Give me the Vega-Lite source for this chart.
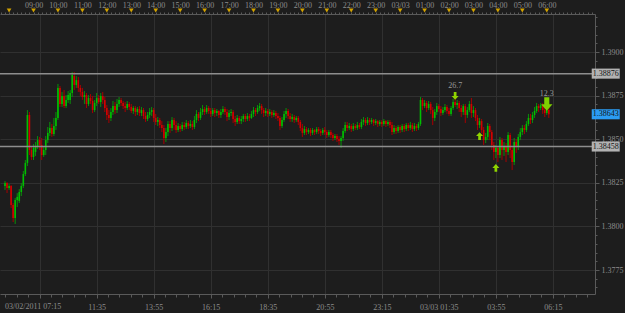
{
"$schema": "https://vega.github.io/schema/vega-lite/v6.json",
"width": 595, "height": 280,
"autosize": {"type": "none"},
"padding": {"left": 0, "top": 14, "right": 30, "bottom": 19},
"background": "#1d1d1d",
"config": {"view": {"stroke": null, "fill": "#1d1d1d"}, "axis": {"labelFont": "Liberation Sans Narrow", "labelFontSize": 8, "labelColor": "#8c8c8c", "domainColor": "#5a5a5a", "tickColor": "#5a5a5a", "gridColor": "#303030", "title": null}},
"datasets": {
"bars": [
{"t":470,"o":1.38232,"h":1.38260,"l":1.38209,"c":1.38249},
{"t":475,"o":1.38249,"h":1.38254,"l":1.38191,"c":1.38220},
{"t":480,"o":1.38220,"h":1.38243,"l":1.38209,"c":1.38232},
{"t":485,"o":1.38232,"h":1.38237,"l":1.38105,"c":1.38123},
{"t":490,"o":1.38123,"h":1.38134,"l":1.38025,"c":1.38048},
{"t":495,"o":1.38048,"h":1.38163,"l":1.38014,"c":1.38151},
{"t":500,"o":1.38151,"h":1.38191,"l":1.38111,"c":1.38169},
{"t":505,"o":1.38146,"h":1.38214,"l":1.38134,"c":1.38197},
{"t":510,"o":1.38197,"h":1.38249,"l":1.38174,"c":1.38232},
{"t":515,"o":1.38232,"h":1.38318,"l":1.38220,"c":1.38300},
{"t":520,"o":1.38300,"h":1.38381,"l":1.38289,"c":1.38364},
{"t":525,"o":1.38364,"h":1.38667,"l":1.38346,"c":1.38639},
{"t":530,"o":1.38639,"h":1.38656,"l":1.38409,"c":1.38438},
{"t":535,"o":1.38438,"h":1.38461,"l":1.38381,"c":1.38398},
{"t":540,"o":1.38398,"h":1.38472,"l":1.38381,"c":1.38450},
{"t":545,"o":1.38427,"h":1.38484,"l":1.38404,"c":1.38461},
{"t":550,"o":1.38461,"h":1.38518,"l":1.38444,"c":1.38495},
{"t":555,"o":1.38495,"h":1.38513,"l":1.38438,"c":1.38467},
{"t":560,"o":1.38467,"h":1.38507,"l":1.38381,"c":1.38409},
{"t":565,"o":1.38409,"h":1.38455,"l":1.38398,"c":1.38438},
{"t":570,"o":1.38438,"h":1.38518,"l":1.38409,"c":1.38495},
{"t":575,"o":1.38495,"h":1.38570,"l":1.38478,"c":1.38536},
{"t":580,"o":1.38536,"h":1.38599,"l":1.38518,"c":1.38564},
{"t":585,"o":1.38564,"h":1.38587,"l":1.38513,"c":1.38530},
{"t":590,"o":1.38530,"h":1.38622,"l":1.38518,"c":1.38576},
{"t":595,"o":1.38576,"h":1.38656,"l":1.38553,"c":1.38622},
{"t":600,"o":1.38622,"h":1.38817,"l":1.38610,"c":1.38794},
{"t":605,"o":1.38794,"h":1.38805,"l":1.38685,"c":1.38702},
{"t":610,"o":1.38702,"h":1.38771,"l":1.38685,"c":1.38748},
{"t":615,"o":1.38748,"h":1.38782,"l":1.38679,"c":1.38690},
{"t":620,"o":1.38690,"h":1.38753,"l":1.38679,"c":1.38725},
{"t":625,"o":1.38725,"h":1.38776,"l":1.38708,"c":1.38753},
{"t":630,"o":1.38725,"h":1.38782,"l":1.38702,"c":1.38765},
{"t":635,"o":1.38765,"h":1.38885,"l":1.38742,"c":1.38868},
{"t":640,"o":1.38862,"h":1.38885,"l":1.38782,"c":1.38811},
{"t":645,"o":1.38811,"h":1.38862,"l":1.38794,"c":1.38839},
{"t":650,"o":1.38839,"h":1.38857,"l":1.38771,"c":1.38794},
{"t":655,"o":1.38794,"h":1.38811,"l":1.38748,"c":1.38771},
{"t":660,"o":1.38771,"h":1.38794,"l":1.38725,"c":1.38742},
{"t":665,"o":1.38742,"h":1.38776,"l":1.38702,"c":1.38753},
{"t":670,"o":1.38753,"h":1.38765,"l":1.38679,"c":1.38702},
{"t":675,"o":1.38702,"h":1.38753,"l":1.38690,"c":1.38736},
{"t":680,"o":1.38736,"h":1.38759,"l":1.38702,"c":1.38719},
{"t":685,"o":1.38719,"h":1.38748,"l":1.38650,"c":1.38667},
{"t":690,"o":1.38667,"h":1.38725,"l":1.38656,"c":1.38708},
{"t":695,"o":1.38708,"h":1.38765,"l":1.38690,"c":1.38736},
{"t":700,"o":1.38736,"h":1.38753,"l":1.38702,"c":1.38713},
{"t":705,"o":1.38713,"h":1.38765,"l":1.38685,"c":1.38748},
{"t":710,"o":1.38748,"h":1.38771,"l":1.38702,"c":1.38725},
{"t":715,"o":1.38725,"h":1.38742,"l":1.38656,"c":1.38679},
{"t":720,"o":1.38679,"h":1.38696,"l":1.38610,"c":1.38639},
{"t":725,"o":1.38639,"h":1.38667,"l":1.38593,"c":1.38622},
{"t":730,"o":1.38622,"h":1.38679,"l":1.38604,"c":1.38656},
{"t":735,"o":1.38656,"h":1.38719,"l":1.38639,"c":1.38690},
{"t":740,"o":1.38690,"h":1.38713,"l":1.38645,"c":1.38667},
{"t":745,"o":1.38667,"h":1.38731,"l":1.38650,"c":1.38702},
{"t":750,"o":1.38702,"h":1.38742,"l":1.38685,"c":1.38725},
{"t":755,"o":1.38725,"h":1.38736,"l":1.38690,"c":1.38708},
{"t":760,"o":1.38708,"h":1.38719,"l":1.38673,"c":1.38690},
{"t":765,"o":1.38690,"h":1.38713,"l":1.38656,"c":1.38679},
{"t":770,"o":1.38679,"h":1.38719,"l":1.38667,"c":1.38702},
{"t":775,"o":1.38702,"h":1.38713,"l":1.38667,"c":1.38685},
{"t":780,"o":1.38685,"h":1.38702,"l":1.38650,"c":1.38662},
{"t":785,"o":1.38662,"h":1.38690,"l":1.38645,"c":1.38679},
{"t":790,"o":1.38679,"h":1.38690,"l":1.38633,"c":1.38656},
{"t":795,"o":1.38656,"h":1.38685,"l":1.38639,"c":1.38673},
{"t":800,"o":1.38673,"h":1.38690,"l":1.38633,"c":1.38650},
{"t":805,"o":1.38650,"h":1.38685,"l":1.38633,"c":1.38667},
{"t":810,"o":1.38667,"h":1.38679,"l":1.38616,"c":1.38633},
{"t":815,"o":1.38633,"h":1.38656,"l":1.38599,"c":1.38616},
{"t":820,"o":1.38616,"h":1.38656,"l":1.38604,"c":1.38639},
{"t":825,"o":1.38639,"h":1.38679,"l":1.38622,"c":1.38656},
{"t":830,"o":1.38656,"h":1.38685,"l":1.38633,"c":1.38667},
{"t":835,"o":1.38667,"h":1.38679,"l":1.38599,"c":1.38622},
{"t":840,"o":1.38622,"h":1.38645,"l":1.38581,"c":1.38599},
{"t":845,"o":1.38599,"h":1.38627,"l":1.38576,"c":1.38610},
{"t":850,"o":1.38610,"h":1.38622,"l":1.38564,"c":1.38581},
{"t":855,"o":1.38581,"h":1.38604,"l":1.38541,"c":1.38564},
{"t":860,"o":1.38564,"h":1.38581,"l":1.38472,"c":1.38507},
{"t":865,"o":1.38507,"h":1.38564,"l":1.38484,"c":1.38541},
{"t":870,"o":1.38541,"h":1.38604,"l":1.38518,"c":1.38587},
{"t":875,"o":1.38587,"h":1.38604,"l":1.38536,"c":1.38564},
{"t":880,"o":1.38564,"h":1.38627,"l":1.38547,"c":1.38610},
{"t":885,"o":1.38610,"h":1.38622,"l":1.38553,"c":1.38581},
{"t":890,"o":1.38581,"h":1.38604,"l":1.38536,"c":1.38553},
{"t":895,"o":1.38553,"h":1.38593,"l":1.38541,"c":1.38576},
{"t":900,"o":1.38576,"h":1.38587,"l":1.38541,"c":1.38558},
{"t":905,"o":1.38558,"h":1.38599,"l":1.38547,"c":1.38581},
{"t":910,"o":1.38581,"h":1.38599,"l":1.38553,"c":1.38570},
{"t":915,"o":1.38570,"h":1.38610,"l":1.38558,"c":1.38593},
{"t":920,"o":1.38593,"h":1.38604,"l":1.38558,"c":1.38576},
{"t":925,"o":1.38576,"h":1.38610,"l":1.38564,"c":1.38587},
{"t":930,"o":1.38587,"h":1.38604,"l":1.38553,"c":1.38570},
{"t":935,"o":1.38570,"h":1.38633,"l":1.38558,"c":1.38610},
{"t":940,"o":1.38610,"h":1.38667,"l":1.38593,"c":1.38645},
{"t":945,"o":1.38645,"h":1.38656,"l":1.38604,"c":1.38622},
{"t":950,"o":1.38622,"h":1.38679,"l":1.38610,"c":1.38656},
{"t":955,"o":1.38656,"h":1.38696,"l":1.38639,"c":1.38673},
{"t":960,"o":1.38673,"h":1.38685,"l":1.38639,"c":1.38656},
{"t":965,"o":1.38656,"h":1.38696,"l":1.38645,"c":1.38679},
{"t":970,"o":1.38679,"h":1.38690,"l":1.38645,"c":1.38662},
{"t":975,"o":1.38662,"h":1.38679,"l":1.38627,"c":1.38645},
{"t":980,"o":1.38645,"h":1.38679,"l":1.38633,"c":1.38667},
{"t":985,"o":1.38667,"h":1.38679,"l":1.38627,"c":1.38650},
{"t":990,"o":1.38650,"h":1.38673,"l":1.38633,"c":1.38662},
{"t":995,"o":1.38662,"h":1.38667,"l":1.38622,"c":1.38639},
{"t":1000,"o":1.38639,"h":1.38673,"l":1.38622,"c":1.38656},
{"t":1005,"o":1.38656,"h":1.38690,"l":1.38645,"c":1.38673},
{"t":1010,"o":1.38673,"h":1.38685,"l":1.38639,"c":1.38656},
{"t":1015,"o":1.38656,"h":1.38673,"l":1.38604,"c":1.38627},
{"t":1020,"o":1.38627,"h":1.38667,"l":1.38610,"c":1.38650},
{"t":1025,"o":1.38650,"h":1.38673,"l":1.38633,"c":1.38656},
{"t":1030,"o":1.38656,"h":1.38667,"l":1.38593,"c":1.38616},
{"t":1035,"o":1.38616,"h":1.38633,"l":1.38576,"c":1.38599},
{"t":1040,"o":1.38599,"h":1.38639,"l":1.38587,"c":1.38622},
{"t":1045,"o":1.38622,"h":1.38633,"l":1.38587,"c":1.38604},
{"t":1050,"o":1.38604,"h":1.38633,"l":1.38587,"c":1.38616},
{"t":1055,"o":1.38616,"h":1.38645,"l":1.38599,"c":1.38633},
{"t":1060,"o":1.38633,"h":1.38645,"l":1.38599,"c":1.38616},
{"t":1065,"o":1.38616,"h":1.38650,"l":1.38604,"c":1.38633},
{"t":1070,"o":1.38633,"h":1.38645,"l":1.38604,"c":1.38622},
{"t":1075,"o":1.38622,"h":1.38662,"l":1.38616,"c":1.38645},
{"t":1080,"o":1.38645,"h":1.38685,"l":1.38627,"c":1.38667},
{"t":1085,"o":1.38667,"h":1.38679,"l":1.38633,"c":1.38656},
{"t":1090,"o":1.38656,"h":1.38696,"l":1.38645,"c":1.38679},
{"t":1095,"o":1.38679,"h":1.38708,"l":1.38662,"c":1.38690},
{"t":1100,"o":1.38690,"h":1.38702,"l":1.38645,"c":1.38667},
{"t":1105,"o":1.38667,"h":1.38679,"l":1.38627,"c":1.38650},
{"t":1110,"o":1.38650,"h":1.38679,"l":1.38633,"c":1.38662},
{"t":1115,"o":1.38662,"h":1.38673,"l":1.38627,"c":1.38645},
{"t":1120,"o":1.38645,"h":1.38673,"l":1.38633,"c":1.38656},
{"t":1125,"o":1.38656,"h":1.38667,"l":1.38622,"c":1.38639},
{"t":1130,"o":1.38639,"h":1.38667,"l":1.38627,"c":1.38650},
{"t":1135,"o":1.38650,"h":1.38662,"l":1.38616,"c":1.38633},
{"t":1140,"o":1.38633,"h":1.38650,"l":1.38604,"c":1.38622},
{"t":1145,"o":1.38622,"h":1.38633,"l":1.38553,"c":1.38576},
{"t":1150,"o":1.38576,"h":1.38627,"l":1.38564,"c":1.38610},
{"t":1155,"o":1.38610,"h":1.38662,"l":1.38599,"c":1.38645},
{"t":1160,"o":1.38645,"h":1.38679,"l":1.38622,"c":1.38662},
{"t":1165,"o":1.38662,"h":1.38673,"l":1.38616,"c":1.38633},
{"t":1170,"o":1.38633,"h":1.38650,"l":1.38599,"c":1.38616},
{"t":1175,"o":1.38616,"h":1.38645,"l":1.38599,"c":1.38627},
{"t":1180,"o":1.38627,"h":1.38639,"l":1.38593,"c":1.38610},
{"t":1185,"o":1.38610,"h":1.38633,"l":1.38599,"c":1.38622},
{"t":1190,"o":1.38622,"h":1.38633,"l":1.38581,"c":1.38599},
{"t":1195,"o":1.38599,"h":1.38610,"l":1.38547,"c":1.38564},
{"t":1200,"o":1.38564,"h":1.38587,"l":1.38513,"c":1.38536},
{"t":1205,"o":1.38536,"h":1.38576,"l":1.38524,"c":1.38558},
{"t":1210,"o":1.38558,"h":1.38570,"l":1.38524,"c":1.38541},
{"t":1215,"o":1.38541,"h":1.38564,"l":1.38530,"c":1.38553},
{"t":1220,"o":1.38553,"h":1.38564,"l":1.38518,"c":1.38536},
{"t":1225,"o":1.38536,"h":1.38564,"l":1.38524,"c":1.38553},
{"t":1230,"o":1.38553,"h":1.38558,"l":1.38524,"c":1.38541},
{"t":1235,"o":1.38541,"h":1.38570,"l":1.38530,"c":1.38558},
{"t":1240,"o":1.38558,"h":1.38570,"l":1.38530,"c":1.38547},
{"t":1245,"o":1.38547,"h":1.38558,"l":1.38518,"c":1.38536},
{"t":1250,"o":1.38536,"h":1.38564,"l":1.38524,"c":1.38553},
{"t":1255,"o":1.38553,"h":1.38570,"l":1.38524,"c":1.38541},
{"t":1260,"o":1.38541,"h":1.38553,"l":1.38507,"c":1.38524},
{"t":1265,"o":1.38524,"h":1.38553,"l":1.38513,"c":1.38541},
{"t":1270,"o":1.38541,"h":1.38553,"l":1.38507,"c":1.38524},
{"t":1275,"o":1.38524,"h":1.38536,"l":1.38490,"c":1.38507},
{"t":1280,"o":1.38507,"h":1.38530,"l":1.38495,"c":1.38518},
{"t":1285,"o":1.38518,"h":1.38530,"l":1.38484,"c":1.38501},
{"t":1290,"o":1.38501,"h":1.38518,"l":1.38467,"c":1.38490},
{"t":1295,"o":1.38490,"h":1.38518,"l":1.38450,"c":1.38507},
{"t":1300,"o":1.38507,"h":1.38564,"l":1.38490,"c":1.38547},
{"t":1305,"o":1.38547,"h":1.38599,"l":1.38536,"c":1.38581},
{"t":1310,"o":1.38581,"h":1.38599,"l":1.38547,"c":1.38564},
{"t":1315,"o":1.38564,"h":1.38593,"l":1.38553,"c":1.38576},
{"t":1320,"o":1.38576,"h":1.38587,"l":1.38541,"c":1.38558},
{"t":1325,"o":1.38558,"h":1.38593,"l":1.38547,"c":1.38576},
{"t":1330,"o":1.38576,"h":1.38587,"l":1.38553,"c":1.38564},
{"t":1335,"o":1.38564,"h":1.38599,"l":1.38553,"c":1.38581},
{"t":1340,"o":1.38581,"h":1.38593,"l":1.38558,"c":1.38570},
{"t":1345,"o":1.38570,"h":1.38616,"l":1.38558,"c":1.38599},
{"t":1350,"o":1.38599,"h":1.38627,"l":1.38581,"c":1.38610},
{"t":1355,"o":1.38610,"h":1.38622,"l":1.38576,"c":1.38593},
{"t":1360,"o":1.38593,"h":1.38627,"l":1.38581,"c":1.38610},
{"t":1365,"o":1.38610,"h":1.38622,"l":1.38581,"c":1.38599},
{"t":1370,"o":1.38599,"h":1.38622,"l":1.38587,"c":1.38610},
{"t":1375,"o":1.38610,"h":1.38616,"l":1.38576,"c":1.38593},
{"t":1380,"o":1.38593,"h":1.38616,"l":1.38581,"c":1.38604},
{"t":1385,"o":1.38604,"h":1.38610,"l":1.38570,"c":1.38587},
{"t":1390,"o":1.38587,"h":1.38610,"l":1.38576,"c":1.38599},
{"t":1395,"o":1.38599,"h":1.38610,"l":1.38570,"c":1.38587},
{"t":1400,"o":1.38587,"h":1.38616,"l":1.38576,"c":1.38604},
{"t":1405,"o":1.38604,"h":1.38610,"l":1.38570,"c":1.38587},
{"t":1410,"o":1.38587,"h":1.38610,"l":1.38576,"c":1.38599},
{"t":1415,"o":1.38599,"h":1.38610,"l":1.38564,"c":1.38581},
{"t":1420,"o":1.38581,"h":1.38599,"l":1.38524,"c":1.38541},
{"t":1425,"o":1.38541,"h":1.38581,"l":1.38530,"c":1.38564},
{"t":1430,"o":1.38564,"h":1.38576,"l":1.38530,"c":1.38547},
{"t":1435,"o":1.38547,"h":1.38581,"l":1.38536,"c":1.38570},
{"t":1440,"o":1.38570,"h":1.38581,"l":1.38536,"c":1.38553},
{"t":1445,"o":1.38553,"h":1.38587,"l":1.38541,"c":1.38576},
{"t":1450,"o":1.38576,"h":1.38587,"l":1.38541,"c":1.38558},
{"t":1455,"o":1.38558,"h":1.38593,"l":1.38547,"c":1.38581},
{"t":1460,"o":1.38581,"h":1.38593,"l":1.38547,"c":1.38564},
{"t":1465,"o":1.38564,"h":1.38599,"l":1.38553,"c":1.38581},
{"t":1470,"o":1.38581,"h":1.38593,"l":1.38541,"c":1.38558},
{"t":1475,"o":1.38558,"h":1.38593,"l":1.38547,"c":1.38576},
{"t":1480,"o":1.38576,"h":1.38587,"l":1.38547,"c":1.38564},
{"t":1485,"o":1.38564,"h":1.38599,"l":1.38553,"c":1.38587},
{"t":1490,"o":1.38587,"h":1.38742,"l":1.38576,"c":1.38725},
{"t":1495,"o":1.38725,"h":1.38736,"l":1.38667,"c":1.38690},
{"t":1500,"o":1.38690,"h":1.38725,"l":1.38679,"c":1.38708},
{"t":1505,"o":1.38708,"h":1.38719,"l":1.38656,"c":1.38679},
{"t":1510,"o":1.38679,"h":1.38719,"l":1.38667,"c":1.38702},
{"t":1515,"o":1.38702,"h":1.38713,"l":1.38645,"c":1.38667},
{"t":1520,"o":1.38667,"h":1.38685,"l":1.38581,"c":1.38622},
{"t":1525,"o":1.38622,"h":1.38673,"l":1.38604,"c":1.38656},
{"t":1530,"o":1.38656,"h":1.38708,"l":1.38639,"c":1.38690},
{"t":1535,"o":1.38690,"h":1.38702,"l":1.38656,"c":1.38673},
{"t":1540,"o":1.38673,"h":1.38690,"l":1.38633,"c":1.38650},
{"t":1545,"o":1.38650,"h":1.38685,"l":1.38639,"c":1.38667},
{"t":1550,"o":1.38667,"h":1.38702,"l":1.38656,"c":1.38685},
{"t":1555,"o":1.38685,"h":1.38696,"l":1.38645,"c":1.38662},
{"t":1560,"o":1.38662,"h":1.38679,"l":1.38633,"c":1.38645},
{"t":1565,"o":1.38645,"h":1.38690,"l":1.38633,"c":1.38679},
{"t":1570,"o":1.38679,"h":1.38731,"l":1.38667,"c":1.38713},
{"t":1575,"o":1.38713,"h":1.38736,"l":1.38685,"c":1.38696},
{"t":1580,"o":1.38696,"h":1.38725,"l":1.38673,"c":1.38708},
{"t":1585,"o":1.38708,"h":1.38719,"l":1.38656,"c":1.38679},
{"t":1590,"o":1.38679,"h":1.38696,"l":1.38627,"c":1.38656},
{"t":1595,"o":1.38656,"h":1.38702,"l":1.38639,"c":1.38690},
{"t":1600,"o":1.38690,"h":1.38702,"l":1.38593,"c":1.38639},
{"t":1605,"o":1.38639,"h":1.38685,"l":1.38622,"c":1.38667},
{"t":1610,"o":1.38667,"h":1.38719,"l":1.38656,"c":1.38702},
{"t":1615,"o":1.38702,"h":1.38736,"l":1.38622,"c":1.38650},
{"t":1620,"o":1.38650,"h":1.38690,"l":1.38627,"c":1.38667},
{"t":1625,"o":1.38667,"h":1.38679,"l":1.38604,"c":1.38622},
{"t":1630,"o":1.38622,"h":1.38639,"l":1.38553,"c":1.38581},
{"t":1635,"o":1.38581,"h":1.38622,"l":1.38564,"c":1.38604},
{"t":1640,"o":1.38604,"h":1.38616,"l":1.38536,"c":1.38553},
{"t":1645,"o":1.38553,"h":1.38570,"l":1.38467,"c":1.38495},
{"t":1650,"o":1.38495,"h":1.38536,"l":1.38478,"c":1.38513},
{"t":1655,"o":1.38513,"h":1.38593,"l":1.38495,"c":1.38576},
{"t":1660,"o":1.38576,"h":1.38587,"l":1.38495,"c":1.38541},
{"t":1665,"o":1.38541,"h":1.38553,"l":1.38438,"c":1.38467},
{"t":1670,"o":1.38467,"h":1.38484,"l":1.38381,"c":1.38427},
{"t":1675,"o":1.38427,"h":1.38467,"l":1.38392,"c":1.38450},
{"t":1680,"o":1.38450,"h":1.38461,"l":1.38369,"c":1.38409},
{"t":1685,"o":1.38409,"h":1.38513,"l":1.38392,"c":1.38495},
{"t":1690,"o":1.38495,"h":1.38507,"l":1.38381,"c":1.38438},
{"t":1695,"o":1.38438,"h":1.38484,"l":1.38404,"c":1.38461},
{"t":1700,"o":1.38461,"h":1.38478,"l":1.38369,"c":1.38427},
{"t":1705,"o":1.38427,"h":1.38541,"l":1.38409,"c":1.38524},
{"t":1710,"o":1.38524,"h":1.38536,"l":1.38392,"c":1.38438},
{"t":1715,"o":1.38438,"h":1.38461,"l":1.38323,"c":1.38369},
{"t":1720,"o":1.38369,"h":1.38507,"l":1.38352,"c":1.38484},
{"t":1725,"o":1.38484,"h":1.38501,"l":1.38421,"c":1.38455},
{"t":1730,"o":1.38455,"h":1.38530,"l":1.38438,"c":1.38513},
{"t":1735,"o":1.38513,"h":1.38564,"l":1.38495,"c":1.38541},
{"t":1740,"o":1.38541,"h":1.38581,"l":1.38524,"c":1.38564},
{"t":1745,"o":1.38564,"h":1.38581,"l":1.38530,"c":1.38553},
{"t":1750,"o":1.38553,"h":1.38604,"l":1.38541,"c":1.38587},
{"t":1755,"o":1.38587,"h":1.38645,"l":1.38576,"c":1.38622},
{"t":1760,"o":1.38622,"h":1.38645,"l":1.38587,"c":1.38610},
{"t":1765,"o":1.38610,"h":1.38656,"l":1.38593,"c":1.38639},
{"t":1770,"o":1.38639,"h":1.38685,"l":1.38622,"c":1.38662},
{"t":1775,"o":1.38662,"h":1.38708,"l":1.38650,"c":1.38690},
{"t":1780,"o":1.38690,"h":1.38702,"l":1.38656,"c":1.38679},
{"t":1785,"o":1.38679,"h":1.38708,"l":1.38667,"c":1.38696},
{"t":1790,"o":1.38696,"h":1.38708,"l":1.38645,"c":1.38667},
{"t":1795,"o":1.38667,"h":1.38690,"l":1.38627,"c":1.38650},
{"t":1800,"o":1.38650,"h":1.38685,"l":1.38639,"c":1.38667},
{"t":1805,"o":1.38667,"h":1.38679,"l":1.38622,"c":1.38643}
],
"hours": [{"h":480},{"h":540},{"h":600},{"h":660},{"h":720},{"h":780},{"h":840},{"h":900},{"h":960},{"h":1020},{"h":1080},{"h":1140},{"h":1200},{"h":1260},{"h":1320},{"h":1380},{"h":1440},{"h":1500},{"h":1560},{"h":1620},{"h":1680},{"h":1740},{"h":1800}],
"levels": [{"p":1.38876},{"p":1.38458}],
"tags": [{"p":1.38876,"txt":"1.38876","kind":"line"},{"p":1.38643,"txt":"1.38643","kind":"bid"},{"p":1.38458,"txt":"1.38458","kind":"line"}],
"arrows": [{"t":1575,"p":1.38748,"dir":"down","lab":"26.7"},{"t":1800,"p":1.38702,"dir":"bigdown","lab":"12.3"},{"t":1635,"p":1.38518,"dir":"up","lab":""},{"t":1675,"p":1.38335,"dir":"up","lab":""}],
"corner": [{"t":470,"txt":"03/02/2011 07:15"}]
},
"resolve": {"axis": {"x": "independent", "y": "independent"}},
"layer": [
{
"data": {"name": "bars"},
"mark": {"type": "rule", "strokeWidth": 1},
"encoding": {
"x": {"field": "t", "type": "quantitative", "scale": {"domain": [470, 1906.1], "nice": false, "zero": false},
 "axis": {"orient": "bottom", "values": [555,695,835,975,1115,1255,1395,1535,1675,1815], "grid": true, "tickSize": 4, "labelPadding": 5, "labelFlush": false, "labelOverlap": false,
 "labelExpr": "datum.value == 555 ? '' : datum.value == 1535 ? '03/03 01:35' : (floor(datum.value/60)%24 < 10 ? '0' : '') + floor(datum.value/60)%24 + ':' + (datum.value%60 < 10 ? '0' : '') + datum.value%60"}},
"y": {"field": "l", "type": "quantitative", "scale": {"domain": [1.376124, 1.392179], "nice": false, "zero": false},
 "axis": {"orient": "right", "values": [1.3775,1.38,1.3825,1.385,1.3875,1.39], "format": ".4f", "grid": true, "tickSize": 4, "labelPadding": 2, "labelFlush": false, "labelOverlap": false}},
"y2": {"field": "h"},
"color": {"condition": {"test": "datum.c >= datum.o", "value": "#0a8f0a"}, "value": "#a80000"}
}
},
{
"data": {"name": "bars"},
"mark": {"type": "bar", "size": 1.6},
"encoding": {
"x": {"field": "t", "type": "quantitative", "axis": {"orient": "bottom", "values": [471,499,527,555,583,611,639,667,695,723,751,779,807,835,863,891,919,947,975,1003,1031,1059,1087,1115,1143,1171,1199,1227,1255,1283,1311,1339,1367,1395,1423,1451,1479,1507,1535,1563,1591,1619,1647,1675,1703,1731,1759,1787,1815,1843,1871,1899], "labels": false, "grid": false, "domain": false, "tickSize": 3}},
"y": {"field": "o", "type": "quantitative", "axis": {"orient": "right", "tickCount": 32, "labels": false, "grid": false, "domain": false, "tickSize": 2}},
"y2": {"field": "c"},
"color": {"condition": {"test": "datum.c >= datum.o", "value": "#00c000"}, "value": "#d40000"}
}
},
{
"data": {"name": "levels"},
"mark": {"type": "rule", "strokeWidth": 1.5, "color": "#8e8e8e"},
"encoding": {"y": {"field": "p", "type": "quantitative", "axis": null}}
},
{
"data": {"name": "hours"},
"mark": {"type": "point", "shape": "triangle-down", "filled": true, "size": 22, "color": "#d2a200", "opacity": 1, "yOffset": -3.5},
"encoding": {
"x": {"field": "h", "type": "quantitative", "axis": {"orient": "top", "values": [540,600,660,720,780,840,900,960,1020,1080,1140,1200,1260,1320,1380,1440,1500,1560,1620,1680,1740,1800], "grid": false, "ticks": false, "domain": true, "labelPadding": 5, "labelFlush": false, "labelOverlap": false,
 "labelExpr": "datum.value == 1440 ? '03/03' : (floor(datum.value/60)%24 < 10 ? '0' : '') + floor(datum.value/60)%24 + ':00'"}},
"y": {"datum": 1.392179, "type": "quantitative", "axis": null}
}
},
{
"data": {"name": "arrows"},
"transform": [{"filter": "datum.dir == 'down'"}],
"mark": {"type": "point", "filled": true, "opacity": 1, "color": "#8fd400", "strokeWidth": 0, "size": 60, "shape": "M-0.35,-1H0.35V0H0.9L0,1L-0.9,0H-0.35Z"},
"encoding": {
"x": {"field": "t", "type": "quantitative", "axis": {"orient": "top", "tickCount": 144, "labels": false, "grid": false, "domain": false, "tickSize": 2}},
"y": {"field": "p", "type": "quantitative", "axis": null}
}
},
{
"data": {"name": "arrows"},
"transform": [{"filter": "datum.dir == 'bigdown'"}],
"mark": {"type": "point", "filled": true, "opacity": 1, "color": "#7fd000", "strokeWidth": 0, "size": 180, "shape": "M-0.38,-1H0.38V0.05H0.85L0,1L-0.85,0.05H-0.38Z"},
"encoding": {
"x": {"field": "t", "type": "quantitative", "axis": null},
"y": {"field": "p", "type": "quantitative", "axis": null}
}
},
{
"data": {"name": "arrows"},
"transform": [{"filter": "datum.dir == 'up'"}],
"mark": {"type": "point", "filled": true, "opacity": 1, "color": "#8fd400", "strokeWidth": 0, "size": 60, "shape": "M-0.35,1H0.35V0H0.9L0,-1L-0.9,0H-0.35Z"},
"encoding": {
"x": {"field": "t", "type": "quantitative", "axis": null},
"y": {"field": "p", "type": "quantitative", "axis": null}
}
},
{
"data": {"name": "arrows"},
"transform": [{"filter": "datum.lab != ''"}],
"mark": {"type": "text", "font": "Liberation Sans Narrow", "fontSize": 8, "color": "#9a9a9a", "dy": -10},
"encoding": {
"x": {"field": "t", "type": "quantitative", "axis": null},
"y": {"field": "p", "type": "quantitative", "axis": null},
"text": {"field": "lab"}
}
},
{
"data": {"name": "tags"},
"mark": {"type": "point", "filled": true, "opacity": 1, "strokeWidth": 0, "size": 784, "shape": "M-1,-0.36H1V0.36H-1Z"},
"encoding": {
"x": {"datum": 1944.7, "type": "quantitative", "axis": null},
"y": {"field": "p", "type": "quantitative", "axis": null},
"color": {"condition": {"test": "datum.kind == 'bid'", "value": "#2b9cf2"}, "value": "#b2b2b2"}
}
},
{
"data": {"name": "tags"},
"mark": {"type": "text", "font": "Liberation Sans Narrow", "fontSize": 8, "color": "#151515", "align": "center", "baseline": "middle"},
"encoding": {
"x": {"datum": 1944.7, "type": "quantitative", "axis": null},
"y": {"field": "p", "type": "quantitative", "axis": null},
"text": {"field": "txt"}
}
},
{
"data": {"name": "corner"},
"mark": {"type": "text", "font": "Liberation Sans Narrow", "fontSize": 8, "color": "#8c8c8c", "align": "left", "baseline": "middle", "dy": 13},
"encoding": {
"x": {"field": "t", "type": "quantitative", "axis": null},
"y": {"datum": 1.376124, "type": "quantitative", "axis": null},
"text": {"field": "txt"}
}
}
]
}
